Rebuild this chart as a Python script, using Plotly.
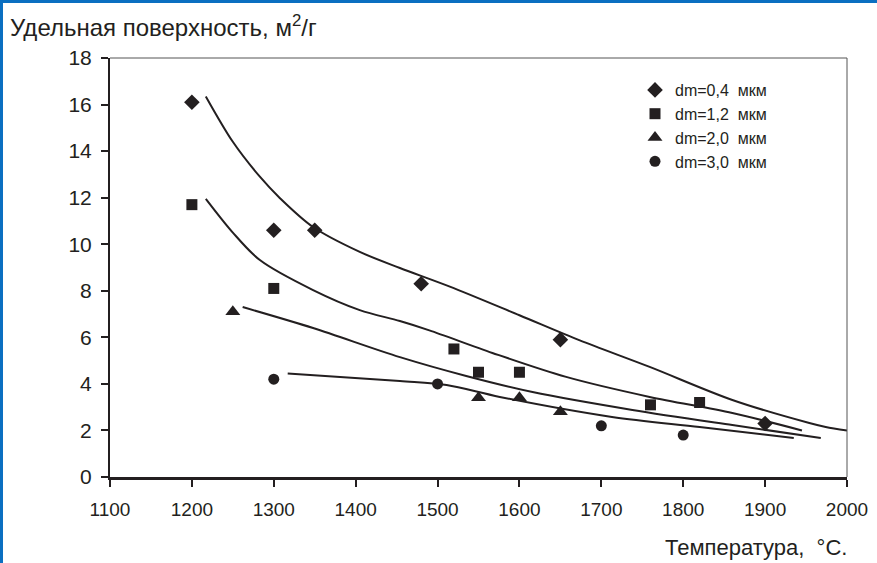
import plotly.graph_objects as go

# Experimental points
d04_x = [1200, 1300, 1350, 1480, 1650, 1900]
d04_y = [16.1, 10.6, 10.6, 8.3, 5.9, 2.3]
d12_x = [1200, 1300, 1520, 1550, 1600, 1760, 1820]
d12_y = [11.7, 8.1, 5.5, 4.5, 4.5, 3.1, 3.2]
d20_x = [1250, 1550, 1600, 1650]
d20_y = [7.1, 3.4, 3.4, 2.8]
d30_x = [1300, 1500, 1700, 1800]
d30_y = [4.2, 4.0, 2.2, 1.8]

# Fitted curves
c04_x = [1217, 1250, 1283, 1307, 1348, 1405, 1454, 1515, 1600, 1673, 1759, 1860, 1954, 1974, 2000]
c04_y = [16.35, 14.4, 12.9, 12.0, 10.74, 9.67, 8.98, 8.18, 6.95, 5.88, 4.73, 3.31, 2.32, 2.15, 2.0]
c12_x = [1217, 1250, 1283, 1348, 1405, 1454, 1490, 1567, 1657, 1759, 1860, 1945]
c12_y = [11.95, 10.5, 9.32, 8.03, 7.17, 6.7, 6.3, 5.33, 4.3, 3.44, 2.75, 2.0]
c20_x = [1262, 1348, 1454, 1535, 1616, 1738, 1860, 1968]
c20_y = [7.3, 6.4, 5.15, 4.34, 3.65, 2.88, 2.23, 1.68]
c30_x = [1317, 1454, 1511, 1576, 1713, 1820, 1935]
c30_y = [4.45, 4.12, 3.95, 3.44, 2.58, 2.15, 1.68]

names = ["dm=0,4  мкм", "dm=1,2  мкм", "dm=2,0  мкм", "dm=3,0  мкм"]
x_ticks = [1100, 1200, 1300, 1400, 1500, 1600, 1700, 1800, 1900, 2000]
y_ticks = [0, 2, 4, 6, 8, 10, 12, 14, 16, 18]

INK = "#231f20"
FONT = "Liberation Sans, Arial, sans-serif"

fig = go.Figure()
for cx, cy in [(c04_x, c04_y), (c12_x, c12_y), (c20_x, c20_y), (c30_x, c30_y)]:
    fig.add_trace(go.Scatter(x=cx, y=cy, mode="lines",
                             line=dict(color=INK, width=2, shape="spline", smoothing=0.9),
                             showlegend=False, hoverinfo="skip"))

symbols = ["diamond", "square", "triangle-up", "circle"]
sizes = [12, 11, 13, 11]
for (px, py), sym, sz, nm in zip([(d04_x, d04_y), (d12_x, d12_y), (d20_x, d20_y), (d30_x, d30_y)],
                                 symbols, sizes, names):
    fig.add_trace(go.Scatter(x=px, y=py, mode="markers", name=nm,
                             marker=dict(symbol=sym, size=sz, color=INK, line=dict(width=0))))

W, H = 877, 563
L, R, T, B = 110, 30, 58, 86
pw, ph = W - L - R, H - T - B


def px2x(p):
    return (p - L) / pw


def px2y(p):
    return (H - B - p) / ph


shapes = [
    dict(type="line", xref="paper", yref="paper", x0=0, x1=1, y0=1, y1=1, line=dict(color="#555555", width=1)),
    dict(type="line", xref="paper", yref="paper", x0=1, x1=1, y0=0, y1=1, line=dict(color="#555555", width=1)),
    dict(type="rect", xref="paper", yref="paper", x0=px2x(0), x1=px2x(W), y0=px2y(3), y1=px2y(0),
         fillcolor="#0b6fc1", line=dict(width=0), layer="above"),
    dict(type="rect", xref="paper", yref="paper", x0=px2x(0), x1=px2x(3), y0=px2y(H), y1=px2y(0),
         fillcolor="#0b6fc1", line=dict(width=0), layer="above"),
]

fig.update_layout(
    width=W, height=H,
    margin=dict(l=L, r=R, t=T, b=B, autoexpand=False),
    paper_bgcolor="white", plot_bgcolor="white",
    font=dict(family=FONT, color=INK, size=19),
    xaxis=dict(range=[1100, 2000], tickvals=x_ticks, ticks="outside", ticklen=7, tickwidth=1.5,
               tickcolor=INK, showline=True, linecolor=INK, linewidth=2.5, showgrid=False, zeroline=False,
               tickfont=dict(family=FONT, size=19, color=INK), ticklabelstandoff=6),
    yaxis=dict(range=[0, 18], tickvals=y_ticks, ticks="outside", ticklen=7, tickwidth=1.5,
               tickcolor=INK, showline=True, linecolor=INK, linewidth=2, showgrid=False, zeroline=False,
               tickfont=dict(family=FONT, size=21, color=INK), ticklabelstandoff=5),
    legend=dict(x=px2x(635), y=px2y(73), xanchor="left", yanchor="top", bgcolor="rgba(0,0,0,0)",
                font=dict(family=FONT, size=16, color=INK), itemwidth=30, tracegroupgap=0),
    shapes=shapes,
    annotations=[
        dict(text="Удельная поверхность, м<sup>2</sup>/г", xref="paper", yref="paper",
             x=px2x(8), y=px2y(26), xanchor="left", yanchor="middle", showarrow=False,
             font=dict(family=FONT, size=24, color=INK)),
        dict(text="Температура,  °С.", xref="paper", yref="paper",
             x=px2x(849), y=px2y(547), xanchor="right", yanchor="middle", showarrow=False,
             font=dict(family=FONT, size=22, color=INK)),
    ],
)

fig.write_html("out.html", config={"displayModeBar": False},
               post_script="document.body.style.margin='0';document.body.style.overflow='hidden';")
